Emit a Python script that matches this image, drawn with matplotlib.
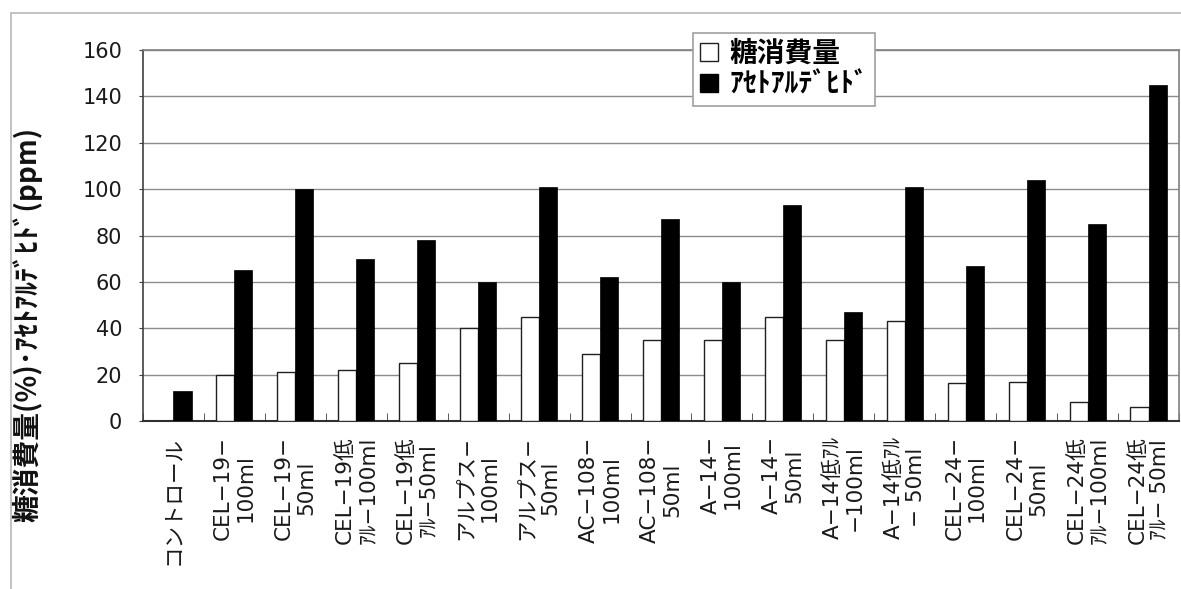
import matplotlib
matplotlib.use("Agg")
import matplotlib.pyplot as plt
from matplotlib.patches import Patch, Rectangle
import numpy as np

# Sample names (two-line category labels)
categories = [
    "コントロール",
    "CEL−19−\n100ml",
    "CEL−19−\n50ml",
    "CEL−19低\nｱﾙ−100ml",
    "CEL−19低\nｱﾙ−50ml",
    "アルプス−\n100ml",
    "アルプス−\n50ml",
    "AC−108−\n100ml",
    "AC−108−\n50ml",
    "A−14−\n100ml",
    "A−14−\n50ml",
    "A−14低ｱﾙ\n−100ml",
    "A−14低ｱﾙ\n− 50ml",
    "CEL−24−\n100ml",
    "CEL−24−\n50ml",
    "CEL−24低\nｱﾙ−100ml",
    "CEL−24低\nｱﾙ− 50ml",
]

# Sugar consumption (%)
sugar = [0, 20, 21, 22, 25, 40, 45, 29, 35, 35, 45, 35, 43, 16.5, 17, 8, 6]
# Acetaldehyde (ppm)
acetaldehyde = [13, 65, 100, 70, 78, 60, 101, 62, 87, 60, 93, 47, 101, 67, 104, 85, 145]

series_labels = ["糖消費量", "ｱｾﾄｱﾙﾃﾞﾋﾄﾞ"]
y_label = "糖消費量(%)･ｱｾﾄｱﾙﾃﾞﾋﾄﾞ(ppm)"
y_ticks = [0, 20, 40, 60, 80, 100, 120, 140, 160]

W, H = 1181, 589
DPI = 100
fig = plt.figure(figsize=(W / DPI, H / DPI), dpi=DPI)
fig.patch.set_facecolor("white")

# outer chart frame (runs off the right and bottom edges)
fig.add_artist(Rectangle((11 / W, -0.1), 1.2, 1 - 13 / H + 0.1,
                         transform=fig.transFigure, fill=False,
                         edgecolor="#b8b8b8", linewidth=1.2, zorder=0))

left, right, top, bottom = 143, 1179, 50, 421
ax = fig.add_axes([left / W, 1 - bottom / H, (right - left) / W, (bottom - top) / H])

x = np.arange(len(categories))
bw = 0.296
ax.bar(x - bw / 2, sugar, width=bw, color="white", edgecolor="#202020",
       linewidth=1.0, zorder=3)
ax.bar(x + bw / 2, acetaldehyde, width=bw, color="black", edgecolor="black",
       linewidth=0.5, zorder=3)

ax.set_xlim(-0.5, len(categories) - 0.5)
ax.set_ylim(0, 160)
ax.set_yticks(y_ticks)
ax.yaxis.grid(True, color="#8c8c8c", linewidth=1.0, zorder=0)
ax.set_axisbelow(True)

tick_font = ["DejaVu Sans", "Noto Sans CJK JP"]
ax.set_yticklabels([str(v) for v in y_ticks], fontsize=15, family=tick_font,
                   color="#1a1a1a")
ax.tick_params(axis="y", length=3, direction="out", pad=12, color="#404040")

# category boundaries as minor ticks, labels at group centres
ax.set_xticks(x)
ax.set_xticklabels(categories, rotation=90, fontsize=15.5, family=tick_font,
                   multialignment="center", va="top", ha="center",
                   color="#1a1a1a", linespacing=1.15)
ax.set_xticks(np.arange(len(categories) + 1) - 0.5, minor=True)
ax.tick_params(axis="x", which="major", length=0, pad=11)
ax.tick_params(axis="x", which="minor", length=6, direction="in", color="#404040")

for side in ("top", "right"):
    ax.spines[side].set_color("#808080")
    ax.spines[side].set_linewidth(1.2)
ax.spines["left"].set_color("#404040")
ax.spines["left"].set_linewidth(1.2)
ax.spines["bottom"].set_color("#303030")
ax.spines["bottom"].set_linewidth(1.5)

fig.text(27 / W, 1 - 127 / H, y_label, rotation=90, ha="center", va="top",
         fontsize=20, fontweight="bold", family=["Noto Sans CJK JP", "DejaVu Sans"],
         color="#111111")

handles = [Patch(facecolor="white", edgecolor="#202020", linewidth=1.0),
           Patch(facecolor="black", edgecolor="black")]
leg = fig.legend(handles, series_labels, loc="upper left",
                 bbox_to_anchor=(693 / W, 1 - 33 / H), borderaxespad=0,
                 frameon=True, fancybox=False, framealpha=1,
                 prop={"family": ["Noto Sans CJK JP", "DejaVu Sans"],
                       "size": 20, "weight": "bold"},
                 handlelength=0.65, handleheight=0.65, handletextpad=0.4,
                 labelspacing=0.1, borderpad=0.25)
leg.get_frame().set_edgecolor("#a0a0a0")
leg.get_frame().set_linewidth(1.2)

fig.savefig("out.png", dpi=DPI, facecolor="white")
